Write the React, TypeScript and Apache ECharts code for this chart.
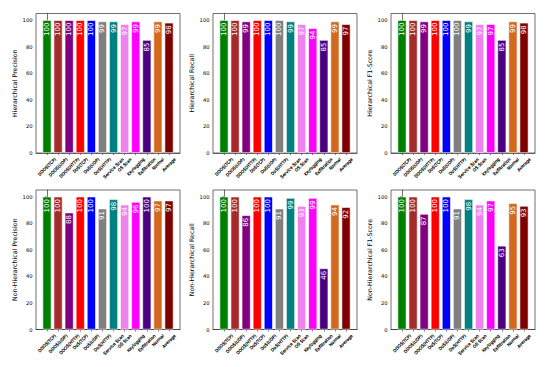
import React, { useEffect, useRef } from "react";
import * as echarts from "echarts";

const categories = [
  "DDOS(TCP)", "DDOS(UDP)", "DDOS(HTTP)", "DoS(TCP)", "DoS(UDP)", "DoS(HTTP)",
  "Service Scan", "OS Scan", "Keylogging", "Exfiltration", "Normal", "Average",
];
const barColors = [
  "#008000", "#a52a2a", "#800080", "#ff0000", "#0000ff", "#808080",
  "#008080", "#ee82ee", "#ff00ff", "#4b0082", "#d2691e", "#800000",
];
const hierPrecision = [100, 100, 100, 100, 100, 99, 99, 97, 99, 85, 99, 98];
const hierRecall = [100, 100, 99, 100, 100, 100, 99, 97, 94, 85, 99, 97];
const hierF1 = [100, 100, 99, 100, 100, 100, 99, 97, 97, 85, 99, 98];
const nonHierPrecision = [100, 100, 88, 100, 100, 91, 98, 94, 96, 100, 97, 97];
const nonHierRecall = [100, 100, 86, 100, 100, 91, 99, 93, 99, 46, 94, 92];
const nonHierF1 = [100, 100, 87, 100, 100, 91, 98, 94, 97, 63, 95, 93];
const yTicks = [0, 20, 40, 60, 80, 100];
const panelTitles = [
  "Hierarchical Precision", "Hierarchical Recall", "Hierarchical F1-Score",
  "Non-Hierarchical Precision", "Non-Hierarchical Recall", "Non-Hierarchical F1-Score",
];
const panelValues = [hierPrecision, hierRecall, hierF1, nonHierPrecision, nonHierRecall, nonHierF1];

const FONT = '"DejaVu Sans", sans-serif';
const colLeft = [36, 213, 391];
const colWidth = 144;
const rowTop = [13.5, 190];
const rowHeight = 139.5;
const xMin = -0.99;
const xMax = 11.99;
const xFont = 4.2;

export default function App() {
  const ref = useRef<HTMLDivElement>(null);
  useEffect(() => {
    if (!ref.current) return;
    const chart = echarts.init(ref.current, null, { renderer: "svg" });

    // matplotlib centres each rotated label's bounding box under its tick:
    // shift each right-aligned ECharts label along the axis by 0.354 * text length
    const cv = document.createElement("canvas").getContext("2d")!;
    cv.font = `${xFont}px "DejaVu Sans"`;
    const unitPx = colWidth / (xMax - xMin);
    const labelPos = categories.map((c, i) => i + (0.354 * cv.measureText(c).width) / unitPx);
    const nearest = (v: number) => {
      let best = 0;
      labelPos.forEach((p, i) => {
        if (Math.abs(p - v) < Math.abs(labelPos[best] - v)) best = i;
      });
      return best;
    };
    const tickIdx = categories.map((_, i) => i);

    const grids: any[] = [];
    const xAxes: any[] = [];
    const yAxes: any[] = [];
    const series: any[] = [];
    panelValues.forEach((vals, p) => {
      const r = Math.floor(p / 3);
      const c = p % 3;
      grids.push({
        left: colLeft[c],
        top: rowTop[r],
        width: colWidth,
        height: rowHeight,
        show: true,
        borderColor: "#333",
        borderWidth: 0.7,
        backgroundColor: "transparent",
        containLabel: false,
        outerBoundsMode: "none",
      });
      xAxes.push({
        type: "value",
        gridIndex: p,
        min: xMin,
        max: xMax,
        splitLine: { show: false },
        axisLine: { show: true, lineStyle: { color: "#333", width: 0.7 } },
        axisTick: { show: true, customValues: tickIdx, length: 2, lineStyle: { color: "#333", width: 0.6 } },
        axisLabel: {
          show: true,
          customValues: labelPos,
          rotate: 45,
          margin: 5.5,
          hideOverlap: false,
          showMinLabel: true,
          showMaxLabel: true,
          fontSize: xFont,
          fontFamily: FONT,
          color: "#000",
          textBorderColor: "#000",
          textBorderWidth: 0.2,
          formatter: (v: number) => categories[nearest(v)],
        },
      });
      yAxes.push({
        type: "value",
        gridIndex: p,
        min: 0,
        max: 105,
        interval: 20,
        splitLine: { show: false },
        axisLine: { show: true, lineStyle: { color: "#333", width: 0.7 } },
        axisTick: { show: true, customValues: yTicks, length: 2, lineStyle: { color: "#333", width: 0.6 } },
        axisLabel: {
          show: true,
          customValues: yTicks,
          margin: 3.5,
          fontSize: 5.2,
          fontFamily: FONT,
          color: "#000",
        },
        name: panelTitles[p],
        nameLocation: "middle",
        nameGap: 18.5,
        nameTextStyle: { fontSize: 6.3, fontFamily: FONT, color: "#000" },
      });
      series.push({
        type: "bar",
        xAxisIndex: p,
        yAxisIndex: p,
        barWidth: 0.8 * unitPx,
        data: vals.map((v, j) => ({
          value: [j, v],
          itemStyle: { color: barColors[j], borderColor: "#fff", borderWidth: 0.6 },
        })),
        label: {
          show: true,
          position: "insideTop",
          distance: 2.5,
          rotate: 90,
          align: "right",
          verticalAlign: "middle",
          color: "#fff",
          fontSize: 7,
          fontFamily: FONT,
          formatter: (prm: any) => String(Math.round(prm.value[1])),
        },
      });
    });

    chart.setOption({
      animation: false,
      backgroundColor: "#fff",
      grid: grids,
      xAxis: xAxes,
      yAxis: yAxes,
      series,
    });
    return () => chart.dispose();
  }, []);
  return (
    <div
      ref={ref}
      style={{ position: "absolute", left: 0, top: 0, width: 550, height: 367 }}
    />
  );
}
